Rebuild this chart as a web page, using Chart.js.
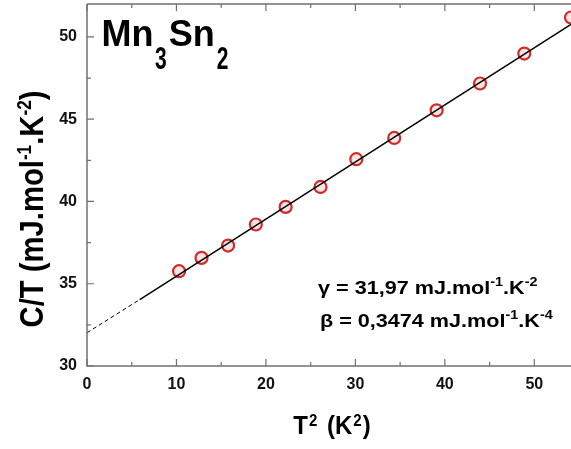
<!DOCTYPE html>
<html>
<head>
<meta charset="utf-8">
<script src="https://cdn.jsdelivr.net/npm/chart.js@4.4.0/dist/chart.umd.min.js"></script>
<style>
  html, body { margin: 0; padding: 0; background: #fff; overflow: hidden; }
  canvas { display: block; }
</style>
</head>
<body>
<canvas id="cv" width="571" height="449"></canvas>
<script>
// measured C/T vs T^2 points
var t2 = [10.29, 12.80, 15.77, 18.87, 22.20, 26.10, 30.10, 34.34, 39.08, 43.93, 48.88, 54.10];
var ct = [35.76, 36.57, 37.32, 38.60, 39.67, 40.88, 42.57, 43.86, 45.54, 47.17, 48.99, 51.18];

// linear fit, dashed extrapolation to T^2 = 0
var fitX = [5.9, 54.1];
var fitY = [34.04, 50.76];
var extX = [0, 5.9];
var extY = [32.02, 34.04];

// axis ticks
var xTicks = [0, 10, 20, 30, 40, 50];
var xMinor = [5, 15, 25, 35, 45];
var yTicks = [30, 35, 40, 45, 50];
var yMinor = [32.5, 37.5, 42.5, 47.5];

var FONT = '"Liberation Sans", Arial, sans-serif';

function toPts(xs, ys) {
    return xs.map(function (v, i) { return {x: v, y: ys[i]}; });
}

// draw a run of text pieces (sup/sub via size + dy), returns width
function drawParts(ctx, parts, x, y, sx, noDraw) {
    var cx = 0;
    parts.forEach(function (p) {
        ctx.font = (p.w || 'bold') + ' ' + p.size + 'px ' + FONT;
        cx += p.gap || 0;
        if (!noDraw) {
            ctx.save();
            ctx.translate(x + cx * sx, y + (p.dy || 0));
            ctx.scale(sx, p.sy || 1);
            ctx.fillText(p.t, 0, 0);
            ctx.restore();
        }
        cx += ctx.measureText(p.t).width;
    });
    return cx * sx;
}

var frame = {
    id: 'frame',
    afterDatasetsDraw: function (chart) {
        var ctx = chart.ctx, a = chart.chartArea;
        var xs = chart.scales.x, ys = chart.scales.y;
        ctx.save();
        ctx.strokeStyle = '#707070';
        ctx.lineWidth = 1.5;
        ctx.beginPath();
        ctx.moveTo(a.left, a.top); ctx.lineTo(a.right, a.top);
        ctx.moveTo(a.left, a.top); ctx.lineTo(a.left, a.bottom); ctx.lineTo(a.right, a.bottom);
        ctx.stroke();

        ctx.lineWidth = 1.2;
        ctx.beginPath();
        function xt(v, len) {
            var px = xs.getPixelForValue(v);
            ctx.moveTo(px, a.bottom); ctx.lineTo(px, a.bottom - len);
            ctx.moveTo(px, a.top); ctx.lineTo(px, a.top + len);
        }
        function yt(v, len) {
            var py = ys.getPixelForValue(v);
            ctx.moveTo(a.left, py); ctx.lineTo(a.left + len, py);
        }
        xTicks.forEach(function (v) { xt(v, 7); });
        xMinor.forEach(function (v) { xt(v, 4); });
        yTicks.forEach(function (v) { yt(v, 7); });
        yMinor.forEach(function (v) { yt(v, 4); });
        ctx.stroke();

        ctx.fillStyle = '#000';
        ctx.textBaseline = 'alphabetic';
        ctx.textAlign = 'left';

        // compound name
        drawParts(ctx, [
            {t: 'Mn', size: 36},
            {t: '3', size: 21, sy: 1.45, dy: 23.6, gap: 1.5},
            {t: 'Sn', size: 36, gap: 2},
            {t: '2', size: 21, sy: 1.45, dy: 23.6, gap: 2}
        ], a.left + 14.5, a.top + 41.7, 1);

        // fit parameters
        var g = [
            {t: '\u03b3 = 31,97 mJ.mol', size: 18},
            {t: '-1', size: 12, dy: -8},
            {t: '.K', size: 18},
            {t: '-2', size: 12, dy: -8}
        ];
        var b = [
            {t: '\u03b2 = 0,3474 mJ.mol', size: 18},
            {t: '-1', size: 12, dy: -8},
            {t: '.K', size: 18},
            {t: '-4', size: 12, dy: -8}
        ];
        drawParts(ctx, g, a.left + 231, a.top + 290, 1.2);
        drawParts(ctx, b, a.left + 233, a.top + 322.7, 1.2);

        // x title
        var xp = [
            {t: 'T', size: 24, sy: 1.1},
            {t: '2', size: 15, dy: -8, sy: 1.1, gap: 1},
            {t: ' (K', size: 24, sy: 1.1, gap: 3},
            {t: '2', size: 15, dy: -8, sy: 1.1, gap: 1},
            {t: ')', size: 24, sy: 1.1, gap: 1}
        ];
        var wx = drawParts(ctx, xp, 0, 0, 1, true);
        drawParts(ctx, xp, 332 - wx / 2, 434, 1);

        // y title (rotated)
        var yp = [
            {t: 'C/T (mJ.mol', size: 34},
            {t: '-1', size: 20, dy: -12},
            {t: '.K', size: 34},
            {t: '-2', size: 20, dy: -12},
            {t: ')', size: 34}
        ];
        var syx = 0.86;
        var wy = drawParts(ctx, yp, 0, 0, syx, true);
        ctx.save();
        ctx.translate(43, 209);
        ctx.rotate(-Math.PI / 2);
        drawParts(ctx, yp, -wy / 2, 0, syx);
        ctx.restore();

        ctx.restore();
    }
};

var tickFont = {family: FONT, weight: 'bold', size: 16};

new Chart(document.getElementById('cv').getContext('2d'), {
    type: 'scatter',
    data: {
        datasets: [{
            label: 'fit',
            data: toPts(fitX, fitY),
            showLine: true,
            borderColor: '#000',
            borderWidth: 1.5,
            pointRadius: 0,
            order: 0
        }, {
            label: 'extrapolation',
            data: toPts(extX, extY),
            showLine: true,
            borderColor: '#000',
            borderWidth: 1,
            borderDash: [4, 3],
            pointRadius: 0,
            order: 0
        }, {
            label: 'C/T',
            data: toPts(t2, ct),
            pointRadius: 6,
            pointBorderWidth: 2.2,
            pointBorderColor: '#cf2b2b',
            pointBackgroundColor: '#fbe4e4',
            order: 1
        }]
    },
    options: {
        responsive: false,
        animation: false,
        layout: {autoPadding: false, padding: {top: 4, right: 0, left: 0, bottom: 0}},
        plugins: {legend: {display: false}, tooltip: {enabled: false}},
        scales: {
            x: {
                type: 'linear',
                min: 0,
                max: 54.1,
                afterBuildTicks: function (s) { s.ticks = xTicks.map(function (v) { return {value: v}; }); },
                afterFit: function (s) { s.height = 83; s.paddingLeft = 0; s.paddingRight = 0; },
                grid: {display: false, drawTicks: false},
                border: {display: false},
                ticks: {font: tickFont, color: '#111', padding: 9, maxRotation: 0, autoSkip: false}
            },
            y: {
                min: 30,
                max: 52,
                afterBuildTicks: function (s) { s.ticks = yTicks.map(function (v) { return {value: v}; }); },
                afterFit: function (s) { s.width = 87; s.paddingTop = 0; s.paddingBottom = 0; },
                grid: {display: false, drawTicks: false},
                border: {display: false},
                ticks: {font: tickFont, color: '#111', padding: 10, autoSkip: false}
            }
        }
    },
    plugins: [frame]
});
</script>
</body>
</html>
